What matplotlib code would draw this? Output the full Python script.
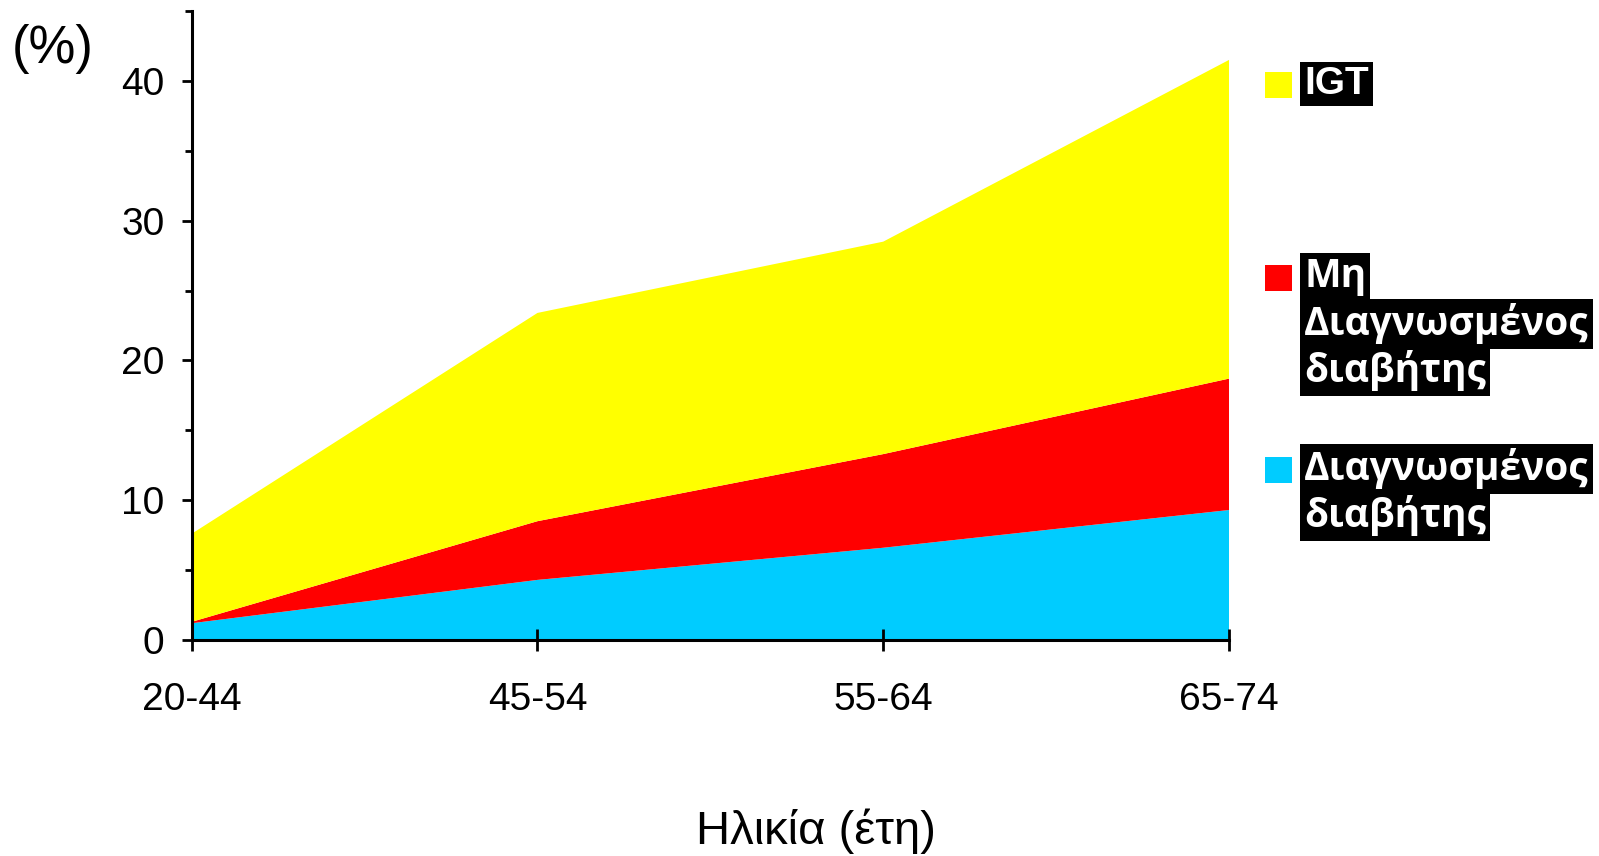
import matplotlib
matplotlib.use("Agg")
import matplotlib.pyplot as plt
from matplotlib.ticker import MultipleLocator
from matplotlib.patches import Rectangle

categories = ["20-44", "45-54", "55-64", "65-74"]
diagnosed = [1.2, 4.3, 6.6, 9.3]
undiagnosed = [0.1, 4.2, 6.7, 9.4]
igt = [6.3, 14.9, 15.2, 22.8]
colors = ["#00CCFF", "#FF0000", "#FFFF00"]
legend_labels = [["IGT"], ["Μη", "Διαγνωσμένος", "διαβήτης"], ["Διαγνωσμένος", "διαβήτης"]]
legend_colors = ["#FFFF00", "#FF0000", "#00CCFF"]

plt.rcParams['font.family'] = ['Liberation Sans', 'DejaVu Sans']

W, H = 1599, 856
fig = plt.figure(figsize=(W / 100, H / 100), dpi=100)
ax = fig.add_axes([191.7 / W, 1 - 640 / H, (1229 - 191.7) / W, (640 - 11) / H])

x = list(range(len(categories)))
ax.stackplot(x, diagnosed, undiagnosed, igt, colors=colors, linewidth=0)
ax.set_xlim(0, 3)
ax.set_ylim(0, 45)

for s in ["top", "right"]:
    ax.spines[s].set_visible(False)
for s in ["left", "bottom"]:
    ax.spines[s].set_linewidth(2.2)
    ax.spines[s].set_zorder(5)

ax.set_xticks(x)
ax.set_xticklabels(categories)
ax.yaxis.set_major_locator(MultipleLocator(10))
ax.yaxis.set_minor_locator(MultipleLocator(5))
ax.tick_params(axis="y", which="major", direction="out", length=7.5, width=2, labelsize=28, pad=12)
ax.tick_params(axis="y", which="minor", direction="out", length=5, width=2)
ax.tick_params(axis="x", which="major", direction="inout", length=16, width=2, labelsize=28, pad=22)

fig.text(12 / W, 1 - 49 / H, "(%)", fontsize=38, ha="left", va="center")
fig.text(816 / W, 1 - 831 / H, "Ηλικία (έτη)", fontsize=34, ha="center", va="center")

# legend
patch_y = [85, 278, 470]
line_h = 47
for labels, col, py in zip(legend_labels, legend_colors, patch_y):
    fig.patches.append(Rectangle((1265 / W, 1 - (py + 13) / H), 27 / W, 26 / H,
                                 transform=fig.transFigure, facecolor=col, edgecolor="none"))
    for i, lab in enumerate(labels):
        fam = ['Liberation Sans'] if lab == "IGT" else ['Open Sans', 'DejaVu Sans']
        fig.text(1304 / W, 1 - (py - 1 + i * line_h) / H, lab, fontsize=28,
                 fontweight="bold", color="white", family=fam, ha="left", va="center",
                 bbox=dict(facecolor="black", edgecolor="none", pad=3))

fig.savefig("out.png", dpi=100)
